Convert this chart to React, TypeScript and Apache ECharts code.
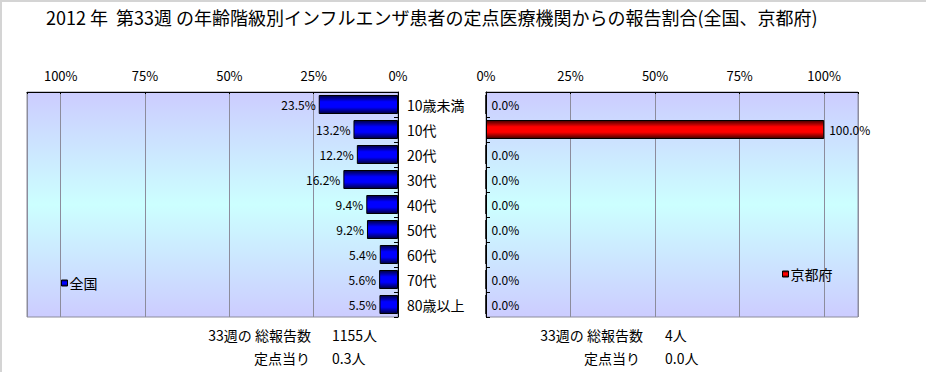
import React, { useEffect, useRef } from "react";
import * as echarts from "echarts";

const categories = ["10歳未満", "10代", "20代", "30代", "40代", "50代", "60代", "70代", "80歳以上"];
const nationalValues = [23.5, 13.2, 12.2, 16.2, 9.4, 9.2, 5.4, 5.6, 5.5];
const kyotoValues = [0, 100, 0, 0, 0, 0, 0, 0, 0];
const seriesNames = ["全国", "京都府"];
const titleText = "2012 年  第33週 の年齢階級別インフルエンザ患者の定点医療機関からの報告割合(全国、京都府)";
const nationalTotal = ["33週の 総報告数", "1155人"];
const nationalPer = ["定点当り", "0.3人"];
const kyotoTotal = ["33週の 総報告数", "4人"];
const kyotoPer = ["定点当り", "0.0人"];

const FONT = '"Noto Sans CJK JP", "Noto Sans", sans-serif';

const plotBg = {
  type: "linear", x: 0, y: 0, x2: 0, y2: 1,
  colorStops: [
    { offset: 0, color: "#CCCCFF" },
    { offset: 0.5, color: "#CCFFFF" },
    { offset: 1, color: "#CCCCFF" },
  ],
};
const blueBar = {
  type: "linear", x: 0, y: 0, x2: 0, y2: 1,
  colorStops: [
    { offset: 0, color: "#000040" },
    { offset: 0.35, color: "#0000FF" },
    { offset: 0.65, color: "#0000FF" },
    { offset: 1, color: "#000040" },
  ],
};
const redBar = {
  type: "linear", x: 0, y: 0, x2: 0, y2: 1,
  colorStops: [
    { offset: 0, color: "#400000" },
    { offset: 0.35, color: "#FF0000" },
    { offset: 0.65, color: "#FF0000" },
    { offset: 1, color: "#400000" },
  ],
};

function xAxisFor(gridIndex: number, inverse: boolean) {
  return {
    gridIndex,
    type: "value",
    min: 0,
    max: 110,
    interval: 25,
    inverse,
    position: "top",
    axisLine: { show: true, lineStyle: { color: "#000", width: 1 } },
    axisTick: { show: true, inside: true, length: 2, lineStyle: { color: "#000" } },
    axisLabel: {
      margin: 10,
      fontSize: 13,
      fontFamily: FONT,
      color: "#000",
      formatter: (v: number) => (v <= 100 ? v + "%" : ""),
    },
    splitLine: { show: true, lineStyle: { color: "#8c8c9c", width: 1 } },
  };
}

export default function App() {
  const ref = useRef<HTMLDivElement>(null);
  useEffect(() => {
    document.body.style.margin = "0";
    const chart = echarts.init(ref.current!, undefined, { renderer: "svg" });
    const textStyle = (x: number, y: number, text: string, align: string) => ({
      type: "text",
      x,
      y,
      style: {
        text,
        fontSize: 14,
        fontFamily: FONT,
        fill: "#000",
        textAlign: align,
        textVerticalAlign: "middle",
      },
    });
    chart.setOption({
      animation: false,
      backgroundColor: "#fff",
      textStyle: { fontFamily: FONT },
      title: {
        text: titleText,
        left: 41,
        top: 3,
        textStyle: { fontSize: 18, fontWeight: "normal", color: "#000", fontFamily: FONT },
      },
      legend: [
        {
          data: [seriesNames[0]],
          left: 56,
          top: 271,
          icon: "rect",
          itemWidth: 6,
          itemHeight: 6,
          itemStyle: { borderColor: "#000", borderWidth: 1 },
          textStyle: { fontSize: 14, color: "#000", fontFamily: FONT, padding: [0, 0, 0, -3] },
        },
        {
          data: [seriesNames[1]],
          left: 777,
          top: 262,
          icon: "rect",
          itemWidth: 6,
          itemHeight: 6,
          itemStyle: { borderColor: "#000", borderWidth: 1 },
          textStyle: { fontSize: 14, color: "#000", fontFamily: FONT, padding: [0, 0, 0, -3] },
        },
      ],
      grid: [
        { left: 27, top: 92, width: 371, height: 225, show: true, backgroundColor: plotBg, borderColor: "#8c8c9c", borderWidth: 1 },
        { left: 486, top: 92, width: 372, height: 225, show: true, backgroundColor: plotBg, borderColor: "#8c8c9c", borderWidth: 1 },
      ],
      xAxis: [xAxisFor(0, true), xAxisFor(1, false)],
      yAxis: [
        {
          gridIndex: 0,
          type: "category",
          data: categories,
          inverse: true,
          position: "right",
          axisLine: { show: true, lineStyle: { color: "#000" } },
          axisTick: { show: true, inside: true, length: 4, lineStyle: { color: "#000" } },
          axisLabel: { margin: 9, fontSize: 14, color: "#000", fontFamily: FONT, align: "left" },
          splitLine: { show: false },
        },
        {
          gridIndex: 1,
          type: "category",
          data: categories,
          inverse: true,
          position: "left",
          axisLine: { show: true, lineStyle: { color: "#000" } },
          axisTick: { show: true, inside: true, length: 4, lineStyle: { color: "#000" } },
          axisLabel: { show: false },
          splitLine: { show: false },
        },
      ],
      series: [
        {
          name: seriesNames[0],
          type: "bar",
          xAxisIndex: 0,
          yAxisIndex: 0,
          data: nationalValues,
          barWidth: 19,
          itemStyle: { color: blueBar, borderColor: "#000", borderWidth: 1 },
          label: {
            show: true,
            position: "left",
            distance: 3,
            fontSize: 12,
            color: "#000",
            fontFamily: FONT,
            formatter: (p: any) => Number(p.value).toFixed(1) + "%",
          },
        },
        {
          name: seriesNames[1],
          type: "bar",
          xAxisIndex: 1,
          yAxisIndex: 1,
          data: kyotoValues,
          barWidth: 19,
          itemStyle: { color: redBar, borderColor: "#000", borderWidth: 1 },
          label: {
            show: true,
            position: "right",
            distance: 5,
            fontSize: 12,
            color: "#000",
            fontFamily: FONT,
            formatter: (p: any) => Number(p.value).toFixed(1) + "%",
          },
        },
      ],
      graphic: [
        { type: "line", shape: { x1: 0, y1: 1, x2: 926, y2: 1 }, style: { stroke: "#d4d4d4", lineWidth: 2 } },
        { type: "line", shape: { x1: 1, y1: 0, x2: 1, y2: 372 }, style: { stroke: "#d4d4d4", lineWidth: 2 } },
        textStyle(311, 335, nationalTotal[0], "right"),
        textStyle(332, 335, nationalTotal[1], "left"),
        textStyle(310, 358, nationalPer[0], "right"),
        textStyle(332, 358, nationalPer[1], "left"),
        textStyle(643, 335, kyotoTotal[0], "right"),
        textStyle(665, 335, kyotoTotal[1], "left"),
        textStyle(640, 358, kyotoPer[0], "right"),
        textStyle(665, 358, kyotoPer[1], "left"),
      ],
    });
    return () => chart.dispose();
  }, []);
  return <div ref={ref} style={{ width: 926, height: 372 }} />;
}
